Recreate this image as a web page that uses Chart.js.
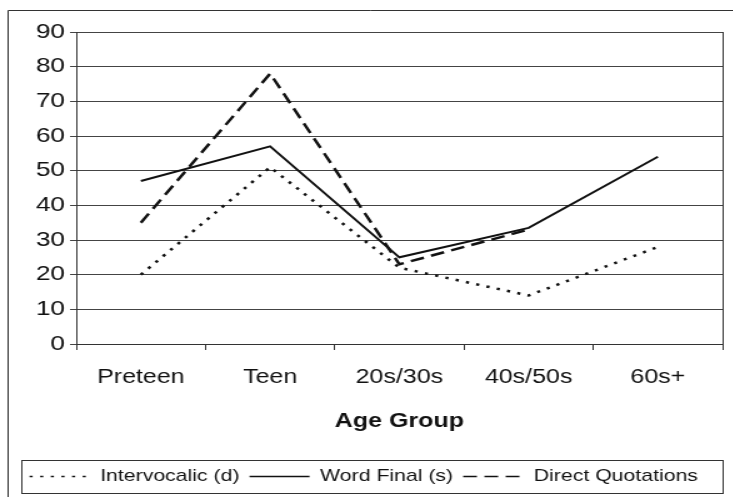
<!DOCTYPE html>
<html>
<head>
<meta charset="utf-8">
<script src="https://cdn.jsdelivr.net/npm/chart.js@4/dist/chart.umd.min.js"></script>
<style>
  html, body { margin: 0; padding: 0; background: #fff; overflow: hidden; }
  /* the scanned original is stretched sideways, so the chart is too */
  #wrap { width: 586px; height: 497px; transform: scaleX(1.25); transform-origin: 0 0; }
</style>
</head>
<body>
<div id="wrap"><canvas id="chart"></canvas></div>
<script>
const ageGroups = ['Preteen', 'Teen', '20s/30s', '40s/50s', '60s+']
const intervocalic = [20, 51, 22, 14, 28]
const wordFinal = [47, 57, 25, 33.5, 54]
const directQuotations = [35, 78, 23, 33, null]
const yTicks = [0, 10, 20, 30, 40, 50, 60, 70, 80, 90]

const ink = '#111'

const frames = {
    id: 'frames',
    afterDraw(chart) {
        const ctx = chart.ctx
        const area = chart.chartArea
        ctx.save()
        ctx.strokeStyle = '#333'
        ctx.lineWidth = 1

        // right side of the plot box
        ctx.beginPath()
        ctx.moveTo(Math.round(area.right) + 0.5, area.top)
        ctx.lineTo(Math.round(area.right) + 0.5, area.bottom)
        ctx.stroke()

        // outer frame, only left and top edges fall inside the picture
        ctx.beginPath()
        ctx.moveTo(6.5, chart.height)
        ctx.lineTo(6.5, 10.5)
        ctx.lineTo(chart.width, 10.5)
        ctx.stroke()

        // box around the legend
        const boxes = chart.legend.legendHitBoxes
        if (boxes.length) {
            const first = boxes[0]
            const left = 17.5
            const right = Math.round(area.right) + 0.5
            const top = Math.round(first.top - 8) + 0.5
            const bottom = Math.round(first.top + first.height + 8) + 0.5
            ctx.strokeRect(left, top, right - left, bottom - top)
        }
        ctx.restore()
    }
}

new Chart(document.getElementById('chart'), {
    type: 'line',
    data: {
        labels: ageGroups,
        datasets: [
            {
                label: 'Intervocalic (d)',
                data: intervocalic,
                borderColor: ink,
                backgroundColor: ink,
                borderWidth: 2.5,
                borderDash: [2.5, 6]
            },
            {
                label: 'Word Final (s)',
                data: wordFinal,
                borderColor: ink,
                backgroundColor: ink,
                borderWidth: 2
            },
            {
                label: 'Direct Quotations',
                data: directQuotations,
                borderColor: ink,
                backgroundColor: ink,
                borderWidth: 2.5,
                borderDash: [11, 6]
            }
        ]
    },
    options: {
        responsive: true,
        maintainAspectRatio: false,
        animation: false,
        devicePixelRatio: 1,
        layout: { padding: { left: 4, right: 8, top: 32, bottom: 2 } },
        elements: {
            point: { radius: 0, hoverRadius: 0 },
            line: { tension: 0, fill: false }
        },
        plugins: {
            tooltip: { enabled: false },
            legend: {
                position: 'bottom',
                labels: {
                    color: ink,
                    font: { family: 'Liberation Sans', size: 17 },
                    usePointStyle: true,
                    pointStyle: 'line',
                    pointStyleWidth: 48,
                    boxHeight: 17,
                    padding: 8,
                    generateLabels(chart) {
                        const items = Chart.defaults.plugins.legend.labels.generateLabels(chart)
                        items.forEach(item => {
                            const ds = chart.data.datasets[item.datasetIndex]
                            item.lineDash = ds.borderDash || []
                            item.lineWidth = 1.6
                            item.strokeStyle = ink
                        })
                        return items
                    }
                }
            }
        },
        scales: {
            x: {
                offset: true,
                grid: {
                    offset: true,
                    drawOnChartArea: false,
                    color: '#333',
                    tickLength: 6
                },
                border: { color: '#333' },
                ticks: {
                    color: ink,
                    font: { family: 'Liberation Sans', size: 20 },
                    padding: 15
                },
                title: {
                    display: true,
                    text: 'Age Group',
                    color: ink,
                    font: { family: 'Liberation Sans', size: 20, weight: 'bold' },
                    padding: { top: 5, bottom: 27 }
                }
            },
            y: {
                min: 0,
                max: 90,
                afterBuildTicks(axis) {
                    axis.ticks = yTicks.map(v => ({ value: v }))
                },
                afterFit(axis) {
                    axis.width = 57
                },
                grid: { color: '#444', tickLength: 5 },
                border: { color: '#333' },
                ticks: {
                    color: ink,
                    font: { family: 'Liberation Sans', size: 21 },
                    padding: 4
                }
            }
        }
    },
    plugins: [frames]
})
</script>
</body>
</html>
